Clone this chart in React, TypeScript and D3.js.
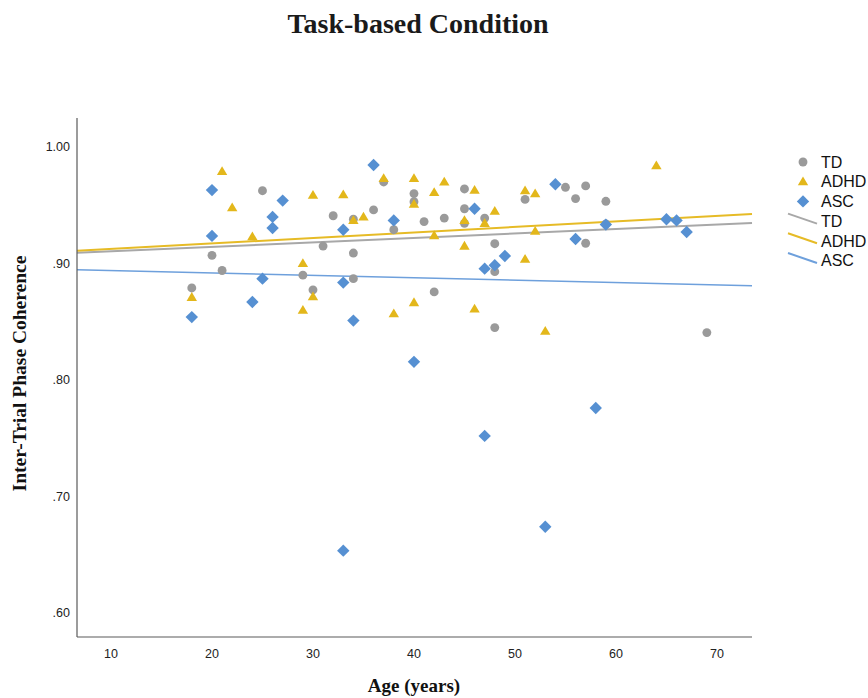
import React from "react";
import * as d3 from "d3";

// ---- Data ----
const tdAge = [18, 20, 21, 25, 29, 30, 31, 32, 34, 34, 34, 36, 37, 38, 40, 40, 41, 42, 43, 45, 45, 45, 47, 48, 48, 48, 51, 55, 56, 57, 57, 59, 59, 69];
const tdITPC = [0.879, 0.907, 0.894, 0.9625, 0.89, 0.8774, 0.915, 0.941, 0.938, 0.909, 0.887, 0.946, 0.97, 0.929, 0.96, 0.953, 0.936, 0.8756, 0.939, 0.964, 0.947, 0.9345, 0.939, 0.917, 0.893, 0.845, 0.955, 0.9654, 0.9557, 0.9666, 0.9174, 0.9534, 0.934, 0.8407];

const adhdAge = [18, 21, 22, 24, 29, 29, 30, 30, 33, 34, 35, 37, 38, 40, 40, 40, 42, 42, 43, 45, 45, 46, 46, 47, 48, 51, 51, 52, 52, 53, 64];
const adhdITPC = [0.871, 0.979, 0.948, 0.923, 0.9, 0.86, 0.9586, 0.8716, 0.959, 0.937, 0.94, 0.973, 0.857, 0.973, 0.951, 0.8665, 0.961, 0.924, 0.97, 0.937, 0.915, 0.963, 0.861, 0.9345, 0.945, 0.9625, 0.9037, 0.96, 0.9277, 0.842, 0.984];

const ascAge = [18, 20, 20, 24, 25, 26, 26, 27, 33, 33, 33, 34, 36, 38, 40, 46, 47, 47, 48, 49, 53, 54, 56, 58, 59, 65, 66, 67];
const ascITPC = [0.854, 0.963, 0.9237, 0.867, 0.887, 0.94, 0.9305, 0.954, 0.929, 0.8836, 0.6535, 0.851, 0.9846, 0.937, 0.8156, 0.947, 0.8956, 0.752, 0.8985, 0.9065, 0.674, 0.968, 0.921, 0.776, 0.9334, 0.938, 0.937, 0.927];

// Linear fit lines (intercept at age 0, slope per year)
const fitGroups = ["TD", "ADHD", "ASC"];
const fitIntercept = [0.9066, 0.9077, 0.8959];
const fitSlope = [0.000384, 0.000474, -0.000205];

const xTicks = [10, 20, 30, 40, 50, 60, 70];
const yTicks = [0.6, 0.7, 0.8, 0.9, 1.0];
const xDomain = [6.634, 73.47];
const yDomain = [0.5794, 1.0249];

const GRAY = "#9a9a9a";
const YELLOW = "#e3b71b";
const BLUE = "#5690d2";
const LINE_GRAY = "#a8a8a8";
const LINE_YELLOW = "#e6bb26";
const LINE_BLUE = "#6ea0dc";

const SERIF = "'Liberation Serif', 'Times New Roman', serif";
const SANS = "'Liberation Sans', Arial, sans-serif";

const circlePath = d3.symbol(d3.symbolCircle, 62)();
const triPath = "M0,-5.2L5.2,3.6L-5.2,3.6Z";
const diaPath = "M0,-6.2L6.2,0L0,6.2L-6.2,0Z";

export default function App() {
  const left = 77, right = 752, top = 118, bottom = 637;
  const x = d3.scaleLinear().domain(xDomain).range([left, right]);
  const y = d3.scaleLinear().domain(yDomain).range([bottom, top]);
  const fmtY = (v: number) => d3.format(".2f")(v).replace(/^0/, "");

  const lineColors = [LINE_GRAY, LINE_YELLOW, LINE_BLUE];
  const lineWidths = [2, 2, 1.5];
  const lineGen = d3.line<number>().x((a) => x(a)).y((a, _i) => 0);

  const fitLines = fitGroups.map((g, i) => {
    const f = (a: number) => fitIntercept[i] + fitSlope[i] * a;
    const gen = d3.line<number>().x((a) => x(a)).y((a) => y(f(a)));
    return (
      <path key={g} d={gen(xDomain) || ""} fill="none" stroke={lineColors[i]} strokeWidth={lineWidths[i]} />
    );
  });
  void lineGen;

  const legendRows = [
    { label: "TD", kind: "circle", color: GRAY },
    { label: "ADHD", kind: "tri", color: YELLOW },
    { label: "ASC", kind: "dia", color: BLUE },
    { label: "TD", kind: "line", color: LINE_GRAY },
    { label: "ADHD", kind: "line", color: LINE_YELLOW },
    { label: "ASC", kind: "line", color: LINE_BLUE },
  ];

  return (
    <svg
      width={868}
      height={698}
      style={{ position: "absolute", left: 0, top: 0, background: "#fff" }}
    >
      <rect x={0} y={0} width={868} height={698} fill="#fff" />
      <text x={418} y={33} textAnchor="middle" fontFamily={SERIF} fontWeight="bold" fontSize={28} fill="#1a1a1a">
        Task-based Condition
      </text>

      {/* fit lines */}
      <g>{fitLines}</g>

      {/* points */}
      <g>
        {tdAge.map((a, i) => (
          <path key={"td" + i} d={circlePath || ""} transform={`translate(${x(a)},${y(tdITPC[i])})`} fill={GRAY} />
        ))}
        {adhdAge.map((a, i) => (
          <path key={"ad" + i} d={triPath} transform={`translate(${x(a)},${y(adhdITPC[i])})`} fill={YELLOW} />
        ))}
        {ascAge.map((a, i) => (
          <path key={"as" + i} d={diaPath} transform={`translate(${x(a)},${y(ascITPC[i])})`} fill={BLUE} />
        ))}
      </g>

      {/* axes */}
      <line x1={left} x2={left} y1={top} y2={bottom} stroke="#5a5a5a" strokeWidth={1.2} />
      <line x1={left} x2={right} y1={bottom} y2={bottom} stroke="#5a5a5a" strokeWidth={1.2} />
      {yTicks.map((t) => (
        <text key={"yt" + t} x={70} y={y(t)} dy="0.35em" textAnchor="end" fontFamily={SANS} fontSize={12.5} fill="#222">
          {fmtY(t)}
        </text>
      ))}
      {xTicks.map((t) => (
        <text key={"xt" + t} x={x(t)} y={658} textAnchor="middle" fontFamily={SANS} fontSize={12.5} fill="#222">
          {t}
        </text>
      ))}

      <text x={414} y={692} textAnchor="middle" fontFamily={SERIF} fontWeight="bold" fontSize={19} fill="#111">
        Age (years)
      </text>
      <text
        transform={`translate(26,${(top + bottom) / 2 - 4}) rotate(-90)`}
        textAnchor="middle"
        fontFamily={SERIF}
        fontWeight="bold"
        fontSize={19.5}
        fill="#111"
      >
        Inter-Trial Phase Coherence
      </text>

      {/* legend */}
      <g>
        {legendRows.map((r, i) => {
          const cy = 162 + i * 19.7;
          let mark: React.ReactNode = null;
          if (r.kind === "circle") mark = <path d={circlePath || ""} transform={`translate(803,${cy})`} fill={r.color} />;
          else if (r.kind === "tri") mark = <path d={triPath} transform={`translate(803,${cy})`} fill={r.color} />;
          else if (r.kind === "dia") mark = <path d={diaPath} transform={`translate(803,${cy})`} fill={r.color} />;
          else mark = <line x1={788} y1={cy - 7.5} x2={817} y2={cy + 2.5} stroke={r.color} strokeWidth={2} />;
          return (
            <g key={"lg" + i}>
              {mark}
              <text x={821} y={cy} dy="0.36em" fontFamily={SANS} fontSize={16} fill="#111">
                {r.label}
              </text>
            </g>
          );
        })}
      </g>
    </svg>
  );
}
